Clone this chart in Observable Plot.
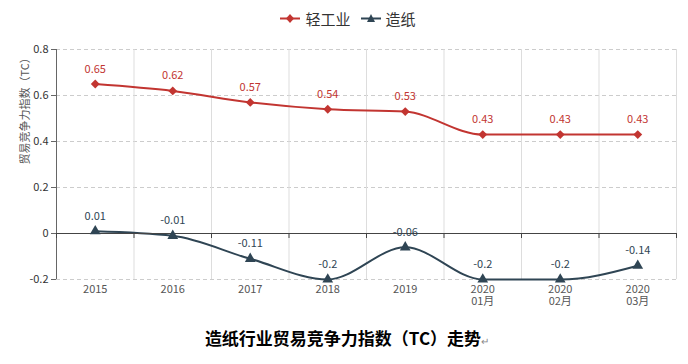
<!DOCTYPE html>
<html>
<head>
<meta charset="utf-8">
<script src="https://cdn.jsdelivr.net/npm/d3@7"></script>
<script src="https://cdn.jsdelivr.net/npm/@observablehq/plot@0.6"></script>
<style>
  html, body { margin: 0; padding: 0; background: #fff; }
  body { width: 688px; height: 364px; overflow: hidden; font-family: "Noto Sans CJK SC", "Noto Sans", sans-serif; }
  #legend { height: 36px; display: flex; justify-content: center; align-items: center; gap: 10px; font-size: 15px; color: #333; padding-left: 8px; box-sizing: border-box; }
  .item { display: flex; align-items: center; gap: 5px; }
  #title { height: 44px; line-height: 44px; text-align: center; font-size: 17px; font-weight: bold; color: #000; font-family: "Noto Sans CJK SC", sans-serif; padding-left: 6px; }
  #title .ret { font-size: 10px; color: #888; font-weight: normal; }
  svg { display: block; }
</style>
</head>
<body>
<div id="legend"></div>
<div id="chart"></div>
<div id="title">造纸行业贸易竞争力指数（TC）走势<span class="ret">↵</span></div>
<script>
const categories = ["2015", "2016", "2017", "2018", "2019", "2020\n01月", "2020\n02月", "2020\n03月"];
const seriesNames = ["轻工业", "造纸"];
const lightIndustry = [0.65, 0.62, 0.57, 0.54, 0.53, 0.43, 0.43, 0.43];
const paper = [0.01, -0.01, -0.11, -0.2, -0.06, -0.2, -0.2, -0.14];
const yTicks = [0.8, 0.6, 0.4, 0.2, 0, -0.2];
const colors = ["#c23531", "#2f4554"];
const yLabel = "贸易竞争力指数（TC）";

const idx = categories.map((_, i) => i);
const bounds = d3.range(-0.5, categories.length, 1);
const data = [
  ...lightIndustry.map((v, i) => ({s: seriesNames[0], i, v})),
  ...paper.map((v, i) => ({s: seriesNames[1], i, v}))
];
const d0 = data.filter(d => d.s === seriesNames[0]);
const d1 = data.filter(d => d.s === seriesNames[1]);
const fmt = v => String(+v.toFixed(2));

// Legend
const legend = document.getElementById("legend");
const symbols = ["diamond", "triangle"];
seriesNames.forEach((name, k) => {
  const it = document.createElement("div");
  it.className = "item";
  const shape = symbols[k] === "diamond"
    ? `<path d="M10,3 L14,7.5 L10,12 L6,7.5Z" fill="${colors[k]}"/>`
    : `<path d="M10,3 L14,11 L6,11Z" fill="${colors[k]}"/>`;
  it.innerHTML = `<svg width="20" height="15"><line x1="0" x2="20" y1="7.5" y2="7.5" stroke="${colors[k]}" stroke-width="2"/>${shape}</svg><span>${name}</span>`;
  legend.appendChild(it);
});

const plot = Plot.plot({
  width: 688,
  height: 280,
  marginTop: 13,
  marginBottom: 37,
  marginLeft: 56,
  marginRight: 12,
  style: {fontFamily: "'Noto Sans CJK SC', 'Noto Sans', sans-serif", fontSize: "11px", color: "#555"},
  x: {domain: [-0.5, categories.length - 0.5], axis: null},
  y: {domain: [-0.2, 0.8], axis: null},
  marks: [
    Plot.ruleY(yTicks.filter(t => t !== 0), {stroke: "#ccc", strokeDasharray: "4,3", strokeWidth: 1}),
    Plot.ruleX(bounds.slice(1), {stroke: "#ddd", strokeWidth: 1}),
    Plot.ruleX([bounds[0]], {stroke: "#666", strokeWidth: 1}),
    Plot.axisY(yTicks, {anchor: "left", tickSize: 5, tickPadding: 3, tickFormat: fmt, stroke: "#666", fill: "#333", fontSize: 11, label: null}),
    Plot.text([yLabel], {frameAnchor: "left", rotate: -90, dx: -31, fontSize: 11, fill: "#555"}),
    Plot.axisX(idx, {anchor: "bottom", tickSize: 0, tickPadding: 5, tickFormat: i => categories[i], fill: "#555", fontSize: 11, lineHeight: 1.1, label: null}),
    Plot.line(d0, {x: "i", y: "v", stroke: colors[0], strokeWidth: 2, curve: "monotone-x"}),
    Plot.line(d1, {x: "i", y: "v", stroke: colors[1], strokeWidth: 2, curve: "monotone-x"}),
    Plot.ruleY([0], {stroke: "#444", strokeWidth: 1}),
    Plot.ruleX(bounds, {y1: 0, y2: 0, insetBottom: -5, stroke: "#444", strokeWidth: 1}),
    Plot.dot(d0, {x: "i", y: "v", symbol: "diamond2", r: 4, fill: colors[0], stroke: "none"}),
    Plot.dot(d1, {x: "i", y: "v", symbol: "triangle", r: 4, fill: colors[1], stroke: "none"}),
    Plot.text(d0, {x: "i", y: "v", text: d => fmt(d.v), dy: -15, fill: colors[0], fontSize: 11}),
    Plot.text(d1, {x: "i", y: "v", text: d => fmt(d.v), dy: -15, fill: colors[1], fontSize: 11})
  ]
});
document.getElementById("chart").appendChild(plot);
</script>
</body>
</html>
